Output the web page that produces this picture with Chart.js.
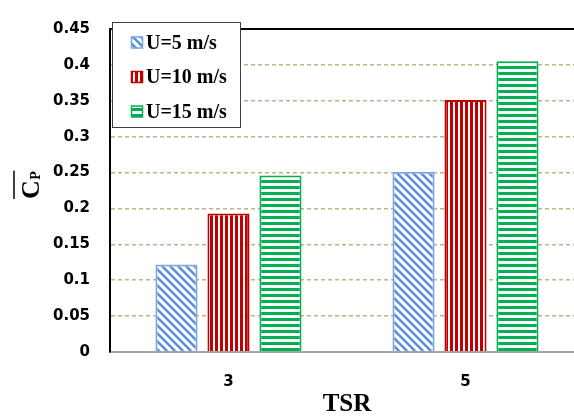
<!DOCTYPE html>
<html>
<head>
<meta charset="utf-8">
<script src="https://cdn.jsdelivr.net/npm/chart.js@4/dist/chart.umd.min.js"></script>
<style>
  html, body { margin: 0; padding: 0; overflow: hidden; background: #fff; }
  #wrap { width: 584px; height: 417px; }
</style>
</head>
<body>
<div id="wrap"><canvas id="c" width="584" height="417"></canvas></div>
<script>
// data
var categories = ['3', '5'];
var seriesNames = ['U=5 m/s', 'U=10 m/s', 'U=15 m/s'];
var u5 = [0.122, 0.251];
var u10 = [0.193, 0.351];
var u15 = [0.246, 0.405];
var yTickValues = [0, 0.05, 0.1, 0.15, 0.2, 0.25, 0.3, 0.35, 0.4, 0.45];
var yTickLabels = ['0', '0.05', '0.1', '0.15', '0.2', '0.25', '0.3', '0.35', '0.4', '0.45'];

var TICK_FONT = {family: 'DejaVu Sans', size: 15, weight: 'bold'};

// pattern fills
function makePattern(kind, color) {
    var c = document.createElement('canvas');
    var g;
    if (kind == 'diag') {
        c.width = 8; c.height = 8;
        g = c.getContext('2d');
        g.fillStyle = '#fff'; g.fillRect(0, 0, 8, 8);
        g.strokeStyle = color; g.lineWidth = 2.6;
        for (var k = -1; k <= 1; k++) {
            g.beginPath();
            g.moveTo(k * 8 - 1, -1);
            g.lineTo(k * 8 + 9, 9);
            g.stroke();
        }
    } else if (kind == 'vert') {
        c.width = 5; c.height = 5;
        g = c.getContext('2d');
        g.fillStyle = '#fff'; g.fillRect(0, 0, 5, 5);
        g.fillStyle = color; g.fillRect(0, 0, 3, 5);
    } else {
        c.width = 6; c.height = 6;
        g = c.getContext('2d');
        g.fillStyle = '#fff'; g.fillRect(0, 0, 6, 6);
        g.fillStyle = color; g.fillRect(0, 0, 6, 3);
    }
    return document.getElementById('c').getContext('2d').createPattern(c, 'repeat');
}

var blueFill = makePattern('diag', '#5B8DD9');
var redFill = makePattern('vert', '#C00000');
var greenFill = makePattern('horiz', '#00B050');

// top frame line + legend box + y title
var extras = {
    id: 'extras',
    afterDraw: function(chart) {
        var ctx = chart.ctx, a = chart.chartArea;
        ctx.save();
        ctx.strokeStyle = '#000';
        ctx.lineWidth = 2;
        ctx.beginPath();
        ctx.moveTo(a.left - 1, a.top);
        ctx.lineTo(a.right, a.top);
        ctx.stroke();

        // legend
        var lx = 112, ly = 22, lw = 128, lh = 105;
        ctx.fillStyle = '#fff';
        ctx.fillRect(lx, ly, lw, lh);
        ctx.strokeStyle = '#404040';
        ctx.lineWidth = 1;
        ctx.strokeRect(lx + 0.5, ly + 0.5, lw, lh);
        ctx.font = 'bold 20px "Liberation Serif"';
        ctx.textAlign = 'left';
        ctx.textBaseline = 'alphabetic';
        chart.data.datasets.forEach(function(ds, i) {
            var base = 48.5 + i * 34.5;
            ctx.fillStyle = ds.backgroundColor;
            ctx.fillRect(131, base - 12, 12, 12);
            ctx.strokeStyle = ds.borderColor;
            ctx.lineWidth = 1.5;
            ctx.strokeRect(131.5, base - 11.5, 11, 11);
            ctx.fillStyle = '#000';
            ctx.fillText(ds.label, 146, base);
        });

        // y axis title: C with overline and subscript P
        ctx.translate(39, 199);
        ctx.rotate(-Math.PI / 2);
        ctx.fillStyle = '#000';
        ctx.font = 'bold 26px "Liberation Serif"';
        var wc = ctx.measureText('C').width;
        ctx.fillText('C', 0, 0);
        ctx.font = 'bold 14px "Liberation Serif"';
        var wp = ctx.measureText('P').width;
        ctx.fillText('P', wc + 0.5, 1);
        ctx.strokeStyle = '#000';
        ctx.lineWidth = 1.5;
        ctx.beginPath();
        ctx.moveTo(0, -25);
        ctx.lineTo(wc + wp + 1, -25);
        ctx.stroke();
        ctx.restore();
    }
};

new Chart(document.getElementById('c'), {
    type: 'bar',
    data: {
        labels: categories,
        datasets: [
            {label: seriesNames[0], data: u5, backgroundColor: blueFill, borderColor: '#7BA5E0', borderWidth: 2},
            {label: seriesNames[1], data: u10, backgroundColor: redFill, borderColor: '#C00000', borderWidth: 2},
            {label: seriesNames[2], data: u15, backgroundColor: greenFill, borderColor: '#00B050', borderWidth: 2}
        ]
    },
    options: {
        responsive: false,
        animation: false,
        layout: {padding: {top: 19, left: 0, right: 0, bottom: 0}},
        plugins: {legend: {display: false}, tooltip: {enabled: false}},
        datasets: {bar: {categoryPercentage: 0.658, barPercentage: 0.81}},
        scales: {
            x: {
                grid: {display: false},
                border: {display: true, color: '#A6A6A6', width: 2, z: 1},
                ticks: {color: '#000', font: TICK_FONT, padding: 13},
                title: {display: true, text: 'TSR', color: '#000',
                        font: {family: 'Liberation Serif', size: 25, weight: 'bold'},
                        padding: {top: 0, bottom: -3}},
                afterFit: function(s) { s.height = 65; }
            },
            y: {
                min: 0,
                max: 0.45,
                afterBuildTicks: function(s) {
                    s.ticks = yTickValues.map(function(v) { return {value: v}; });
                },
                grid: {
                    drawTicks: false,
                    lineWidth: 1.5,
                    color: function(ctx) {
                        var v = ctx.tick ? ctx.tick.value : 0;
                        if (v <= 0 || v >= 0.449) return 'rgba(0,0,0,0)';
                        return '#BDB38C';
                    }
                },
                border: {display: true, color: '#000', width: 2, dash: [4, 3], z: 1},
                ticks: {
                    color: '#000',
                    font: TICK_FONT,
                    padding: 20,
                    callback: function(v, i) { return yTickLabels[i]; }
                },
                afterFit: function(s) { s.width = 110; }
            }
        }
    },
    plugins: [extras]
});
</script>
</body>
</html>
